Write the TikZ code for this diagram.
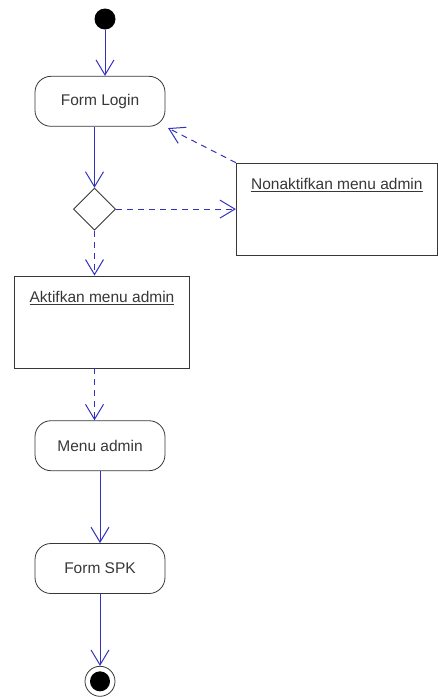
\documentclass[tikz,border=0pt]{standalone}
\usepackage{fontspec}
\setmainfont{Liberation Sans}
\usetikzlibrary{shapes.geometric,arrows.meta}
\usetikzlibrary{positioning}

\definecolor{flowblue}{RGB}{50,50,190}
\definecolor{boxgray}{RGB}{55,55,55}

\begin{document}
\begin{tikzpicture}[x=1pt, y=-1pt, line width=0.8pt,
    font=\fontsize{15.5}{18}\selectfont, text=boxgray,
    >={Straight Barb[length=15pt, width=18pt]},
    flow/.style={->, draw=flowblue, line width=1pt},
    guard/.style={->, draw=flowblue, line width=1pt, dashed, dash pattern=on 6pt off 5pt},
    startnode/.style={circle, fill=black, minimum size=21pt, inner sep=0pt},
    endnode/.style={circle, draw=boxgray, minimum size=30pt, inner sep=0pt,
        path picture={\fill[black] (path picture bounding box.center) circle (10pt);}},
    activity/.style={draw=boxgray, rounded corners=16pt, minimum width=130pt, minimum height=50pt},
    actbox/.style={draw=boxgray, minimum height=92pt},
    choice/.style={diamond, draw=boxgray, minimum size=42pt, inner sep=0pt}]
    \useasboundingbox (0,0) rectangle (438,697);

    % main flow
    \node[startnode] (start) at (105,19) {};
    \node[activity] (login) [below=46pt of start, xshift=-5pt] {Form Login};
    \node[choice] (choice) [below=61pt of login, xshift=-5.5pt] {};

    % the two branches
    \node[actbox, minimum width=201pt,
          label={[anchor=north, yshift=-12pt]north:\underline{Nonaktifkan menu admin}}]
          (nonaktif) [right=120pt of choice] {};
    \node[actbox, minimum width=175pt,
          label={[anchor=north, yshift=-12pt]north:\underline{Aktifkan menu admin}}]
          (aktif) [below=45pt of choice, xshift=7.5pt] {};

    \node[activity] (menu) [below=52pt of aktif, xshift=-2pt] {Menu admin};
    \node[activity] (spk) [below=72pt of menu] {Form SPK};
    \node[endnode] (end) [below=72pt of spk] {};

    \draw[flow] (start) -- (start |- login.north);
    \draw[flow] (login.south -| choice) -- (choice.north);
    \draw[guard] (choice.east) -- (choice -| nonaktif.west);
    \draw[guard, shorten >=3pt] (nonaktif.north west) -- (login.south east);
    \draw[guard] (choice.south) -- (choice |- aktif.north);
    \draw[guard] (aktif.south -| choice) -- (choice |- menu.north);
    \draw[flow] (menu) -- (spk);
    \draw[flow] (spk) -- (end);
\end{tikzpicture}
\end{document}
